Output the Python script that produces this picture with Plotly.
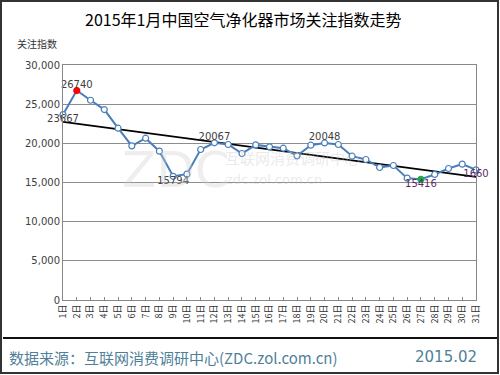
import numpy as np
import plotly.graph_objects as go

days = list(range(1, 32))
day_labels = [f"{d}日" for d in days]
values = [23667, 26740, 25500, 24310, 21930, 19680, 20655, 19000, 15794, 16065,
          19210, 20067, 19850, 18700, 19800, 19550, 19380, 18400, 19760, 20048,
          19850, 18360, 17935, 16915, 17170, 15555, 15416, 16025, 16790, 17340, 16607]
y_ticks = [0, 5000, 10000, 15000, 20000, 25000, 30000]
y_tick_text = ["0", "5,000", "10,000", "15,000", "20,000", "25,000", "30,000"]

# labelled points: (day, text, position, colour)
labels = [
    (1, "23667", "bottom center", "#404040"),
    (2, "26740", "top center", "#404040"),
    (9, "15794", "bottom center", "#404040"),
    (12, "20067", "top center", "#404040"),
    (20, "20048", "top center", "#404040"),
    (27, "15416", "bottom center", "#5e2a66"),
    (31, "1660", "bottom center", "#5e2a66"),
]

CJK = "Noto Sans CJK SC"

slope, intercept = np.polyfit(days, values, 1)
trend = [slope * d + intercept for d in days]

marker_colors = ["white"] * len(days)
marker_line = ["#4a7ebb"] * len(days)
marker_colors[1] = "#ff0000"
marker_line[1] = "#ff0000"
marker_colors[26] = "#1aa84a"
marker_line[26] = "#1aa84a"

W, H = 500, 375
l, r, t, b = 63, 24, 65, 75
pw, ph = W - l - r, H - t - b


def rx(px):
    return (px - l) / pw


def ry(py):
    return 1 - (py - t) / ph


fig = go.Figure()
fig.add_trace(go.Scatter(
    x=days, y=trend, mode="lines",
    line=dict(color="black", width=1.6), hoverinfo="skip", showlegend=False))
fig.add_trace(go.Scatter(
    x=days, y=values, mode="lines+markers",
    line=dict(color="#4a7ebb", width=2),
    marker=dict(size=6, color=marker_colors, line=dict(color=marker_line, width=1.2)),
    showlegend=False, cliponaxis=False))
for d, txt, pos, col in labels:
    fig.add_trace(go.Scatter(
        x=[d], y=[values[d - 1]], mode="text", text=[txt], textposition=pos,
        textfont=dict(family="Verdana, DejaVu Sans", size=10, color=col),
        showlegend=False, cliponaxis=False))


def ann(text, px, py, size, color, family=CJK, xanchor="center"):
    return dict(text=text, x=rx(px), y=ry(py), xref="paper", yref="paper",
                xanchor=xanchor, yanchor="middle", showarrow=False,
                font=dict(family=family, size=size, color=color))


annotations = [
    ann("2015年1月中国空气净化器市场关注指数走势", 243, 19, 16, "black"),
    ann("关注指数", 37, 43, 10, "#333333"),
    ann("ZDC", 176, 170, 50, "rgba(205,205,205,0.35)", family="DejaVu Sans"),
    ann("互联网消费调研中心", 292, 157, 15, "rgba(200,200,200,0.4)"),
    ann("zdc.zol.com.cn", 274, 179, 13, "rgba(200,200,200,0.4)", family="DejaVu Sans"),
    ann("数据来源：互联网消费调研中心(ZDC.zol.com.cn)", 7, 357, 15, "#4f7f99", xanchor="left"),
    ann("2015.02", 446, 357, 15, "#4f7f99", family="DejaVu Sans"),
]

shapes = [
    dict(type="rect", xref="paper", yref="paper", x0=rx(1), x1=rx(498), y0=ry(1), y1=ry(373),
         line=dict(color="#333333", width=2), layer="above"),
    dict(type="line", xref="paper", yref="paper", x0=rx(3), x1=rx(497), y0=ry(338), y1=ry(338),
         line=dict(color="#111111", width=2), layer="above"),
]

fig.update_layout(
    width=W, height=H,
    margin=dict(l=l, r=r, t=t, b=b, autoexpand=False),
    paper_bgcolor="white", plot_bgcolor="white",
    hovermode=False,
    xaxis=dict(
        range=[1, 31], tickvals=days, ticktext=day_labels, tickangle=-90,
        tickfont=dict(family=CJK, size=9, color="#333333"),
        showgrid=False, showline=True, linecolor="#888888", linewidth=1, mirror=True,
        ticks="inside", ticklen=3, tickcolor="#888888", zeroline=False, automargin=False),
    yaxis=dict(
        range=[0, 30000], tickvals=y_ticks, ticktext=y_tick_text,
        tickfont=dict(family="Verdana, DejaVu Sans", size=10, color="#404040"),
        showgrid=True, gridcolor="#8c8c8c", gridwidth=1,
        showline=True, linecolor="#888888", linewidth=1, mirror=True,
        ticks="", zeroline=False, automargin=False),
    annotations=annotations,
    shapes=shapes,
)

fig.write_html("out.html", config={"displayModeBar": False},
               post_script="document.body.style.margin='0';")
